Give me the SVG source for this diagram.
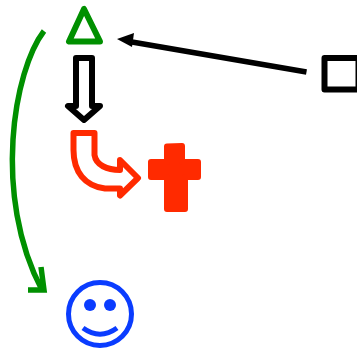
<svg xmlns="http://www.w3.org/2000/svg" width="357" height="349" viewBox="0 0 357 349">
<style>
.s{stroke-width:6;stroke-linejoin:round;stroke-linecap:round}
</style>
<g id="connectors" fill="none">
<path d="M306.500 72L132 42" stroke="#000" stroke-width="5.500"/>
<path d="M117 39L134 33L132 47Z" fill="#000"/>
<path d="M44 31C14 70 -8 195 42 290" stroke="#009000" stroke-width="5.500"/>
<path d="M41 267L44 290L28 290" stroke="#009000" stroke-width="5.500"/>
</g>
<g id="triangle"><path class="s" d="M84 9L69 41.500L100 41.500Z" fill="#fff" stroke="#009000"/></g>
<g id="square"><rect class="s" x="324.500" y="58" width="34" height="31.500" fill="#fff" stroke="#000"/></g>
<g id="down-arrow"><path class="s" d="M76 58H92V106L100 106L84 120L68 106L76 106Z" fill="#fff" stroke="#000"/></g>
<g id="bent-arrow"><path class="s" d="M73.500 133H94.500V155C96 165 107 170 120 170V160L138 178L120 195.500V188.500H105C85 186 73.500 172 73.500 150Z" fill="#fff" stroke="#ff2a00"/></g>
<g id="cross"><path class="s" d="M167 146.500L182 146V162H198V177H185V191.500L185 209H167V177H151V162H167Z" fill="#ff2a00" stroke="#ff2a00"/></g>
<g id="smiley" fill="none" stroke="#0a3cff">
<circle cx="100" cy="314" r="31.500" stroke-width="5"/>
<circle cx="90" cy="305" r="6" fill="#0a3cff" stroke="none"/>
<circle cx="110" cy="305" r="6" fill="#0a3cff" stroke="none"/>
<path d="M83 328C94 336 106 336 117 328" stroke-width="5"/>
</g>
</svg>
